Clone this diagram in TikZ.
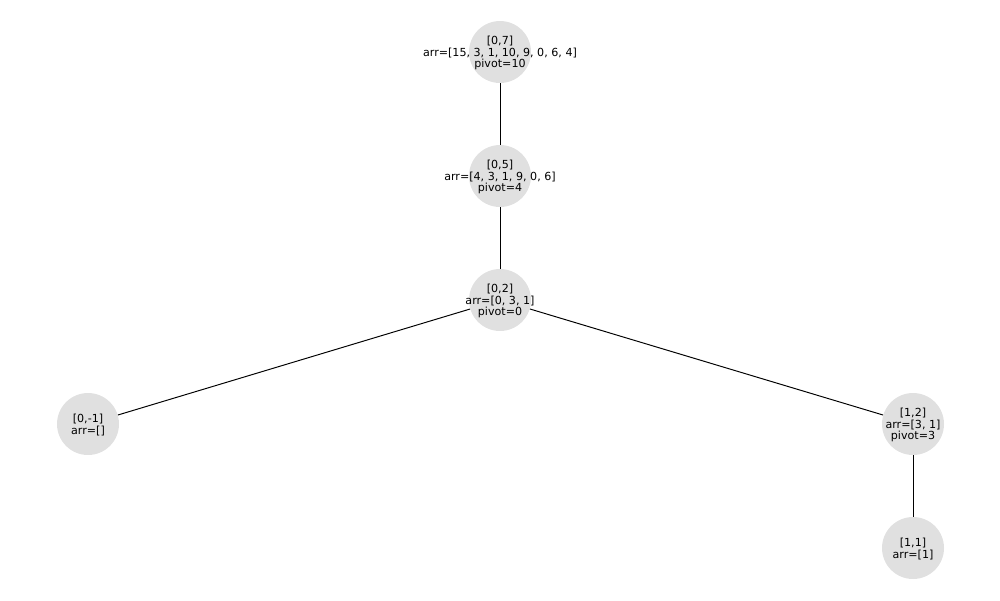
\documentclass[tikz,border=0pt]{standalone}
\usepackage{fontspec}
\setmainfont{DejaVu Sans}
\begin{document}
\begin{tikzpicture}[x=0.72pt,y=-0.72pt,
  vert/.style={circle,fill=black!12,draw=none,minimum size=62*0.72pt,inner sep=0pt},
  lbl/.style={align=center,font=\fontsize{8}{8.6}\selectfont,inner sep=0pt,yshift=-0.7pt},
  edge/.style={line width=0.7pt,black}]
\useasboundingbox (0,0) rectangle (1000,600);
\node[vert] (n07) at (500,52) {};
\node[vert] (n05) at (500,176) {};
\node[vert] (n02) at (500,300) {};
\node[vert] (n0m1) at (88,424) {};
\node[vert] (n12) at (913,424) {};
\node[vert] (n11) at (913,548) {};
\node[lbl] (t07) at (n07) {[0,7]\\arr=[15, 3, 1, 10, 9, 0, 6, 4]\\pivot=10};
\node[lbl] (t05) at (n05) {[0,5]\\arr=[4, 3, 1, 9, 0, 6]\\pivot=4};
\node[lbl] (t02) at (n02) {[0,2]\\arr=[0, 3, 1]\\pivot=0};
\node[lbl] (t0m1) at (n0m1) {[0,-1]\\arr=[]};
\node[lbl] (t12) at (n12) {[1,2]\\arr=[3, 1]\\pivot=3};
\node[lbl] (t11) at (n11) {[1,1]\\arr=[1]};
\draw[edge] (n07) -- (n05);
\draw[edge] (n05) -- (n02);
\draw[edge] (n02) -- (n0m1);
\draw[edge] (n02) -- (n12);
\draw[edge] (n12) -- (n11);
\end{tikzpicture}
\end{document}
